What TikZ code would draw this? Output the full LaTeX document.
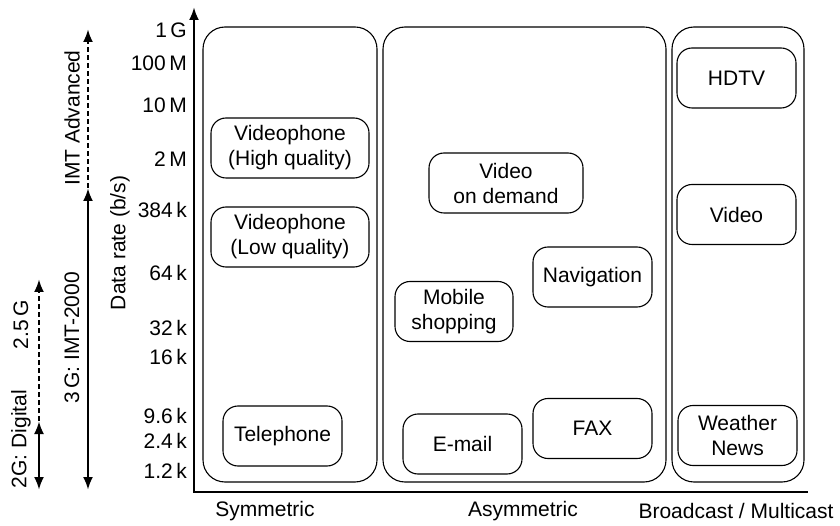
\documentclass[tikz,border=0pt]{standalone}
\usepackage{fontspec}
\setmainfont{Liberation Sans}
\usetikzlibrary{arrows.meta}
\tikzset{bigtip/.tip={Latex[length=13pt,width=10pt]}}
\begin{document}
\begin{tikzpicture}[x=1pt,y=-1pt,
  every node/.style={font=\fontsize{21}{25}\selectfont},
  group/.style={draw, line width=1.1pt, rounded corners=22pt, inner sep=0pt},
  service/.style={draw, line width=1.1pt, rounded corners=15pt, align=center,
    inner sep=0pt, minimum width=119pt, minimum height=60pt},
  ratelabel/.style={anchor=east, inner sep=0pt},
  axisline/.style={line width=2.8pt},
  gen/.style={line width=2.6pt},
  gendash/.style={line width=2.6pt, dash pattern=on 5pt off 3pt},
]
\useasboundingbox (0,0) rectangle (840,526);

% service classes
\node[group, minimum width=174pt, minimum height=455pt] (sym)   at (290,254.5) {};
\node[group, minimum width=283pt, minimum height=455pt] (asym)  at (524.5,254.5) {};
\node[group, minimum width=132pt, minimum height=455pt] (bcast) at (738,254.5) {};

% symmetric services
\node[service, minimum width=158pt] (vphigh) at (290,148) {Videophone\\(High quality)};
\node[service, minimum width=158pt] (vplow)  at (290,237) {Videophone\\(Low quality)};
\node[service] (tel) at (282.5,436) {Telephone};

% asymmetric services
\node[service, minimum width=154pt] (vod) at (506,183) {Video\\on demand};
\node[service] (nav)  at (592.5,277) {Navigation};
\node[service, minimum width=118pt] (shop) at (454,311.5) {Mobile\\shopping};
\node[service] (mail) at (462.5,444) {E-mail};
\node[service] (fax)  at (592.5,428.5) {FAX};

% broadcast / multicast services
\node[service] (hdtv)    at (736.5,78) {HDTV};
\node[service] (video)   at (736.5,214.5) {Video};
\node[service] (weather) at (737.5,435.5) {Weather\\News};

% axes
\coordinate (origin) at (194,492);
\coordinate (ytop) at (194,7);
\coordinate (xend) at (808,492);
\draw[axisline, bigtip-, line join=miter] (ytop) -- (origin) -- (xend);

% data rate scale
\node[ratelabel] (r1g)   at (187,30)  {1\,G};
\node[ratelabel] (r100m) at (187,63)  {100\,M};
\node[ratelabel] (r10m)  at (187,105) {10\,M};
\node[ratelabel] (r2m)   at (187,159) {2\,M};
\node[ratelabel] (r384k) at (187,210) {384\,k};
\node[ratelabel] (r64k)  at (187,273) {64\,k};
\node[ratelabel] (r32k)  at (187,328) {32\,k};
\node[ratelabel] (r16k)  at (187,357) {16\,k};
\node[ratelabel] (r96k)  at (187,416) {9.6\,k};
\node[ratelabel] (r24k)  at (187,441) {2.4\,k};
\node[ratelabel] (r12k)  at (187,471) {1.2\,k};
\node[rotate=90] (ylabel) at (120,243) {Data rate (b/s)};

% class names
\node (lsym)   at (265,511) {Symmetric};
\node (lasym)  at (523,511) {Asymmetric};
\node (lbcast) at (736,511) {Broadcast / Multicast};

% system generations
\coordinate (g3top) at (88,188);
\coordinate (g3bot) at (88,490);
\coordinate (g4top) at (88,29);
\coordinate (g2top) at (39,421);
\coordinate (g2bot) at (39,490);
\coordinate (g25top) at (39,279);
\draw[gendash, -bigtip] (g3top) -- (g4top);
\draw[gen, bigtip-bigtip] (g3top) -- (g3bot);
\draw[gendash, -bigtip] (g2top) -- (g25top);
\draw[gen, bigtip-bigtip] (g2top) -- (g2bot);
\node[rotate=90] (limt)  at (72,118) {IMT Advanced};
\node[rotate=90] (l3g)   at (72,338) {3\,G: IMT-2000};
\node[rotate=90] (l25g)  at (21,325) {2.5\,G};
\node[rotate=90] (l2g)   at (21,439) {2G: Digital};
\end{tikzpicture}
\end{document}
